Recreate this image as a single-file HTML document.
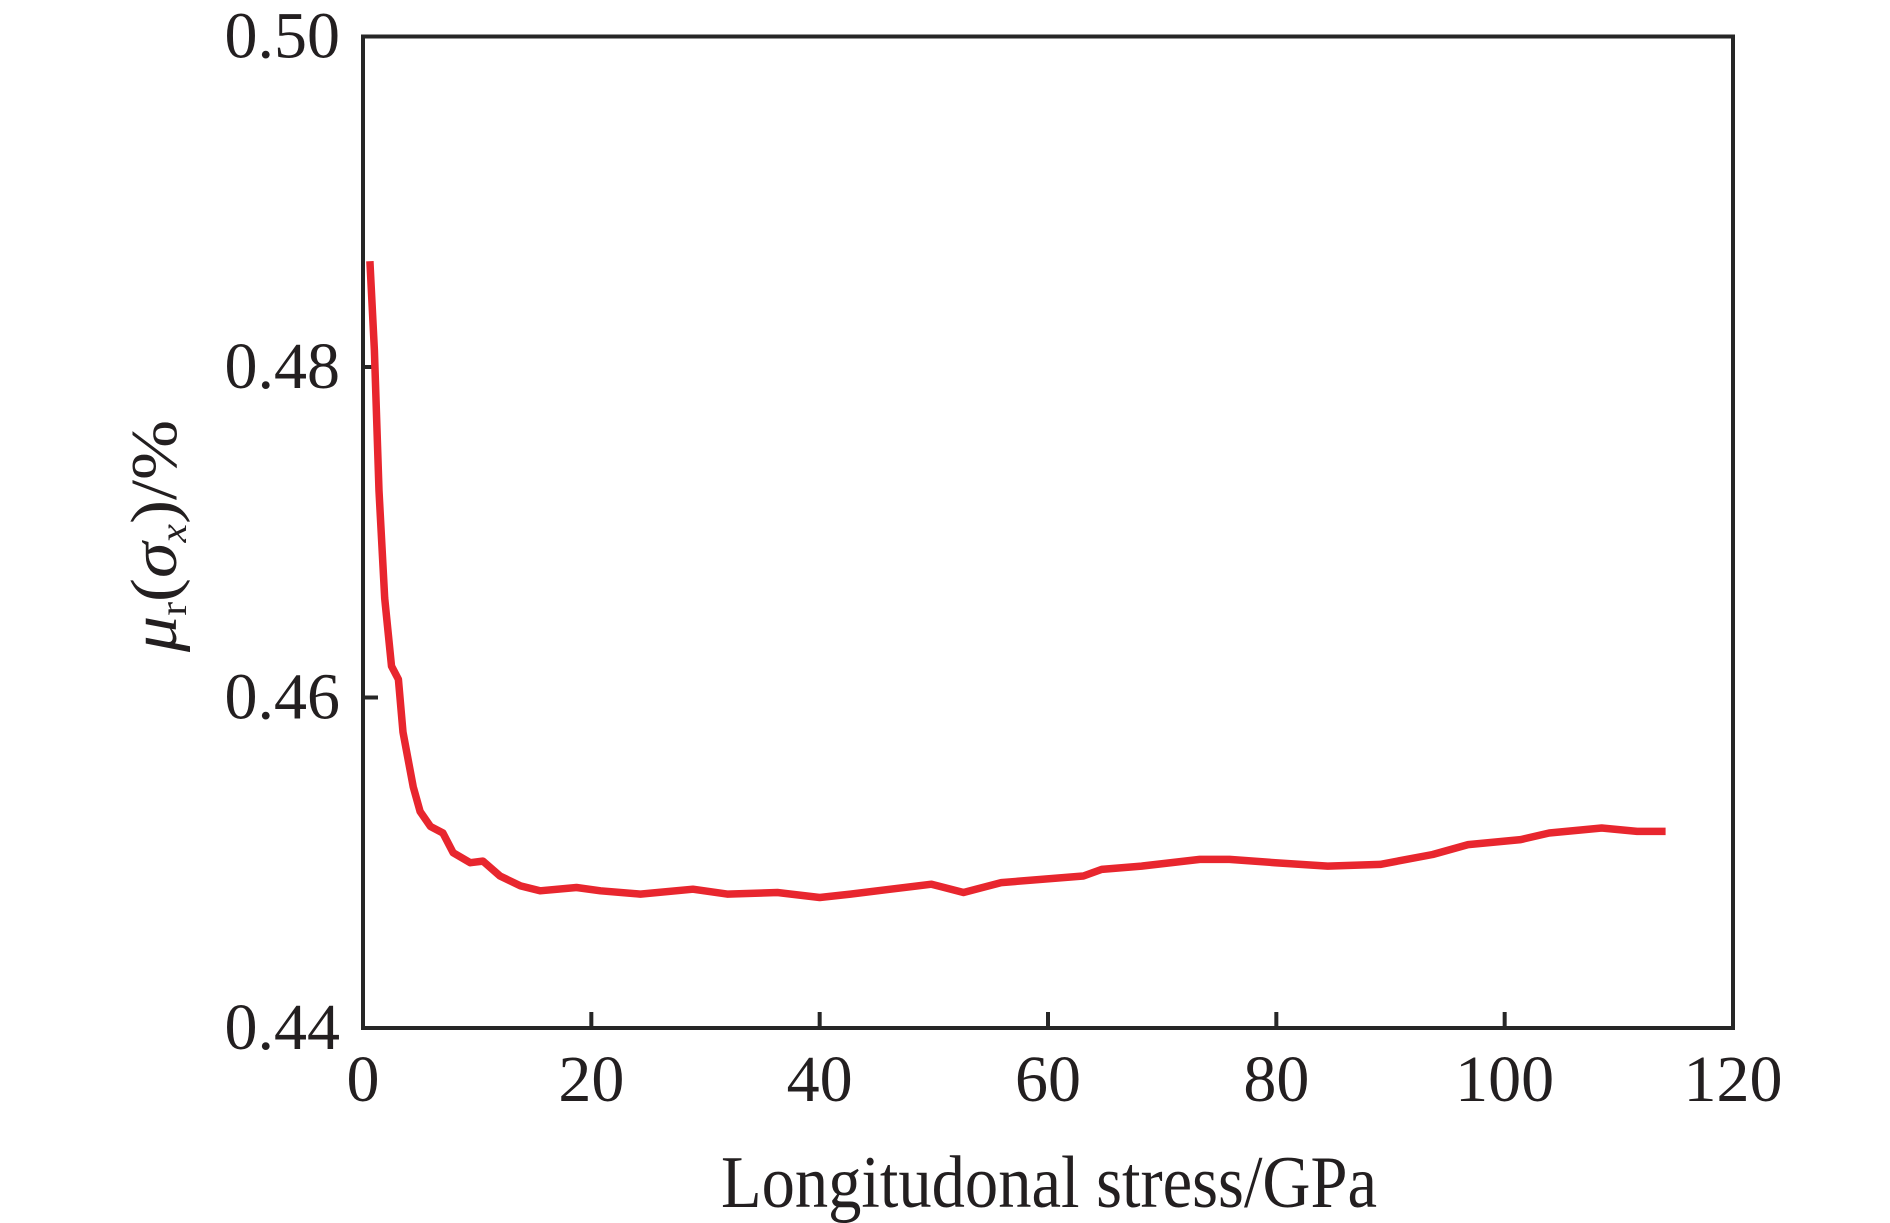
<!DOCTYPE html>
<html><head><meta charset="utf-8"><style>
html,body{margin:0;padding:0;background:#fff;}
svg{display:block;}
text{font-family:"Liberation Serif","DejaVu Serif",serif;fill:#231f20;}
</style></head><body>
<svg id="chart" width="1890" height="1223" viewBox="0 0 1890 1223" xmlns="http://www.w3.org/2000/svg">
<rect x="363" y="36.5" width="1370" height="991.5" fill="none" stroke="#262626" stroke-width="4"/>
<g id="ticks"></g>
<path id="series" fill="none" stroke="#e8262e" stroke-width="7.5" stroke-linejoin="round" stroke-linecap="butt"/>
<text x="721" y="1207" font-size="74" textLength="656" lengthAdjust="spacingAndGlyphs">Longitudonal stress/GPa</text>
<text transform="translate(176,536) rotate(-90)" text-anchor="middle" font-size="66" textLength="232" lengthAdjust="spacingAndGlyphs"><tspan font-style="italic">μ</tspan><tspan font-size="38" dy="10">r</tspan><tspan dy="-10">(</tspan><tspan font-style="italic">σ</tspan><tspan font-style="italic" font-size="38" dy="10">x</tspan><tspan dy="-10">)/%</tspan></text>
</svg>
<script>
const xTicks = [0, 20, 40, 60, 80, 100, 120];
const yTicks = [0.44, 0.46, 0.48, 0.50];
const yTickLabels = ["0.44", "0.46", "0.48", "0.50"];
const xValues = [0.6, 1.0, 1.4, 1.9, 2.5, 3.1, 3.5, 4.4, 5.0, 5.9, 7.0, 7.9, 9.4, 10.5, 12.0, 13.8, 15.5, 18.7, 20.8, 24.3, 28.9, 31.9, 36.3, 40.0, 42.7, 49.8, 52.6, 55.9, 63.1, 64.7, 68.2, 73.3, 75.9, 79.9, 84.5, 89.1, 93.7, 96.8, 101.4, 103.9, 108.5, 111.6, 114.1];
const yValues = [0.4864, 0.481, 0.4725, 0.466, 0.4619, 0.4611, 0.4579, 0.4546, 0.4531, 0.4522, 0.4518, 0.4506, 0.4500, 0.4501, 0.4492, 0.4486, 0.4483, 0.4485, 0.4483, 0.4481, 0.4484, 0.4481, 0.4482, 0.4479, 0.4481, 0.4487, 0.4482, 0.4488, 0.4492, 0.4496, 0.4498, 0.4502, 0.4502, 0.4500, 0.4498, 0.4499, 0.4505, 0.4511, 0.4514, 0.4518, 0.4521, 0.4519, 0.4519];

const X0 = 363, X1 = 1733, Y0 = 1028, Y1 = 36.5;
const xMin = 0, xMax = 120, yMin = 0.44, yMax = 0.50;
function sx(v){ return X0 + (v - xMin) / (xMax - xMin) * (X1 - X0); }
function sy(v){ return Y0 - (v - yMin) / (yMax - yMin) * (Y0 - Y1); }
const NS = "http://www.w3.org/2000/svg";
const g = document.getElementById("ticks");

xTicks.forEach(function(t){
  const ln = document.createElementNS(NS, "line");
  
  
  ln.setAttribute("x1", sx(t)); ln.setAttribute("x2", sx(t));
  ln.setAttribute("y1", Y0); ln.setAttribute("y2", Y0 - 16);
  ln.setAttribute("stroke", "#262626"); ln.setAttribute("stroke-width", "4");
  g.appendChild(ln);
  const tx = document.createElementNS(NS, "text");
  
  
  tx.setAttribute("x", sx(t)); tx.setAttribute("y", 1101);
  tx.setAttribute("text-anchor", "middle"); tx.setAttribute("font-size", "66");
  tx.textContent = String(t);
  g.appendChild(tx);
});

yTicks.forEach(function(t, i){
  const ln = document.createElementNS(NS, "line");
  
  
  ln.setAttribute("x1", X0); ln.setAttribute("x2", X0 + 15);
  ln.setAttribute("y1", sy(t)); ln.setAttribute("y2", sy(t));
  ln.setAttribute("stroke", "#262626"); ln.setAttribute("stroke-width", "4");
  g.appendChild(ln);
  const tx = document.createElementNS(NS, "text");
  
  
  tx.setAttribute("x", 340); tx.setAttribute("y", sy(t) + 21);
  tx.setAttribute("text-anchor", "end"); tx.setAttribute("font-size", "66");
  tx.textContent = yTickLabels[i];
  g.appendChild(tx);
});

let d = "";
xValues.forEach(function(x, i){
  d += (i === 0 ? "M" : "L") + sx(x).toFixed(1) + "," + sy(yValues[i]).toFixed(1);
});
document.getElementById("series").setAttribute("d", d);
</script>
</body></html>
